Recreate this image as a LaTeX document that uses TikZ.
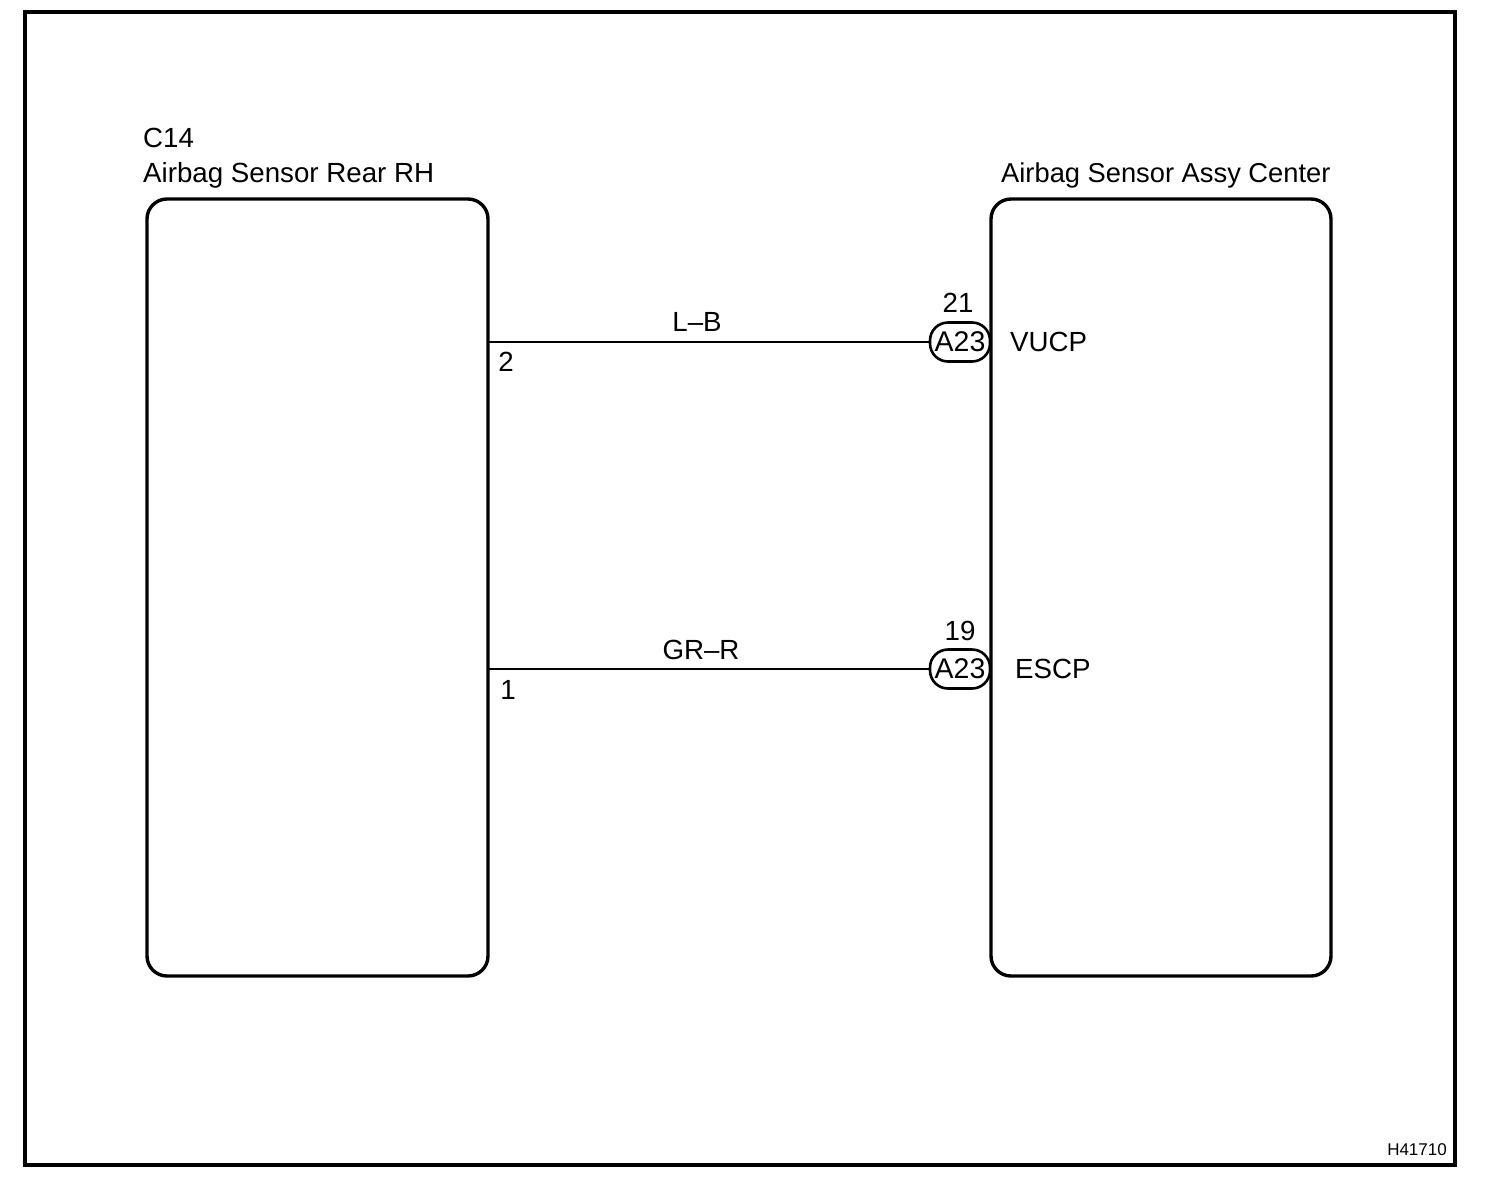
\documentclass[tikz,border=0pt]{standalone}
\usepackage{fontspec}
\setmainfont{Liberation Sans}
\begin{document}
\begin{tikzpicture}[x=1pt,y=-1pt,
  frame/.style={line width=3.2pt},
  unit/.style={draw,line width=3.4pt,rounded corners=20pt},
  wire/.style={line width=1.8pt},
  conn/.style={draw,line width=2.6pt,rounded corners=18pt,minimum width=60pt,minimum height=39pt,inner sep=0pt,font=\fontsize{28.5}{32}\selectfont},
  lbl/.style={inner sep=0pt,font=\fontsize{27.7}{33}\selectfont},
]
\useasboundingbox (0,0) rectangle (1504,1192);
\draw[frame] (25,12) rectangle (1455,1165);
\draw[unit] (147,199) rectangle (488,976);
\draw[unit] (991,199) rectangle (1331,976);
\coordinate (p2) at (488,342);
\coordinate (p1) at (488,669);
\node[conn] (c21) at (960,342) {A23};
\node[conn] (c19) at (960,669) {A23};
\draw[wire] (p2) -- (c21.west);
\draw[wire] (p1) -- (c19.west);
\node[lbl,anchor=west] (t1) at (143,138) {C14};
\node[lbl,anchor=west] (t2) at (143,175) {Airbag Sensor Rear RH};
\node[lbl,anchor=west,font=\fontsize{27.3}{33}\selectfont] (t3) at (1001,175) {Airbag Sensor Assy Center};
\node[lbl] (n21) at (958,303) {21};
\node[lbl] (n19) at (960,631) {19};
\node[lbl,anchor=west] (v) at (1010,342) {VUCP};
\node[lbl,anchor=west] (e) at (1015,669) {ESCP};
\node[lbl] (w1) at (697,322) {L–B};
\node[lbl] (w2) at (701,650) {GR–R};
\node[lbl] (pin2) at (506,362) {2};
\node[lbl] (pin1) at (508,690) {1};
\node[inner sep=0pt,anchor=east,font=\fontsize{17}{20}\selectfont] (code) at (1447,1150) {H41710};
\end{tikzpicture}
\end{document}
